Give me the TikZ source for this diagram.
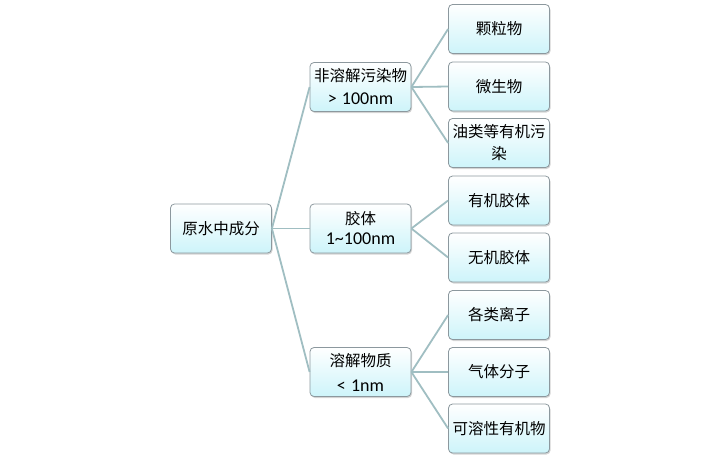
\documentclass[tikz,border=0pt]{standalone}
\usepackage{fontspec}
\setmainfont{Noto Sans CJK SC}
\newfontfamily\lat{Carlito}
\usetikzlibrary{shadows}
\begin{document}
\begin{tikzpicture}[x=1pt,y=-1pt,
  box/.style={draw={rgb,255:red,140;green,152;blue,158}, line width=0.8pt,
    rounded corners=4pt, top color=white, bottom color={rgb,255:red,205;green,244;blue,250},
    minimum width=99pt, minimum height=49pt, inner sep=1pt, align=center,
    text width=99pt,
    font=\fontsize{15.5}{22}\selectfont,
    drop shadow={shadow xshift=1pt, shadow yshift=-1.5pt, fill={rgb,255:red,170;green,170;blue,170}, opacity=0.5}},
  link/.style={draw={rgb,255:red,160;green,190;blue,194}, line width=1.8pt}]
\useasboundingbox (0,0) rectangle (720,461);
\node[box] (root) at (221,228.5) {原水中成分};
\node[box] (m1) at (360.5,87) {非溶解污染物\\[1pt]{\lat\fontsize{18}{22}\selectfont > 100nm}};
\node[box, font=\fontsize{15.5}{20}\selectfont] (m2) at (360.5,228.5) {胶体\\{\lat\fontsize{18}{20}\selectfont 1\textasciitilde100nm}};
\node[box] (m3) at (360.5,372) {溶解物质\\[3pt]{\lat\fontsize{18}{22}\selectfont < 1nm}};
\node[box] (l1) at (499,29) {颗粒物};
\node[box] (l2) at (499,86.5) {微生物};
\node[box] (l3) at (499,143) {油类等有机污\\染};
\node[box] (l4) at (499,200.5) {有机胶体};
\node[box] (l5) at (499,257.5) {无机胶体};
\node[box] (l6) at (499,315) {各类离子};
\node[box] (l7) at (499,372) {气体分子};
\node[box] (l8) at (499,428.5) {可溶性有机物};
\foreach \m in {m1,m2,m3} \draw[link] (root.east) -- (\m.west);
\foreach \l in {l1,l2,l3} \draw[link] (m1.east) -- (\l.west);
\foreach \l in {l4,l5} \draw[link] (m2.east) -- (\l.west);
\foreach \l in {l6,l7,l8} \draw[link] (m3.east) -- (\l.west);
\end{tikzpicture}
\end{document}
